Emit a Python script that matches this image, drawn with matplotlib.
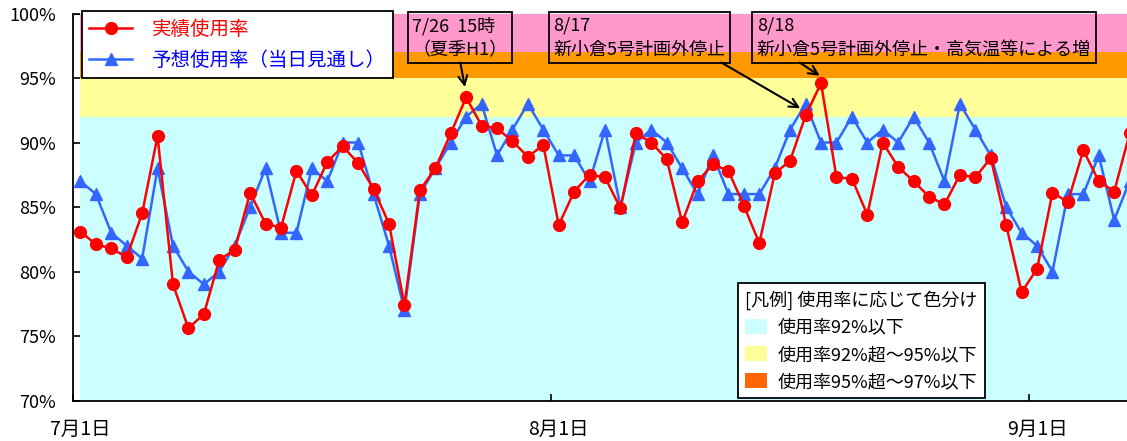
import matplotlib
matplotlib.use('Agg')
import matplotlib.pyplot as plt
from matplotlib.patches import Patch
import numpy as np
import pandas as pd

plt.rcParams['font.family'] = ['Noto Sans CJK JP', 'DejaVu Sans']

# daily categories 7/1 .. 9/7
days = pd.date_range('2014-07-01', periods=69, freq='D')

# 実績使用率 (%)
actual = [83.1, 82.1, 81.8, 81.1, 84.5, 90.5, 79.0, 75.6, 76.7, 80.9,
          81.7, 86.1, 83.7, 83.4, 87.8, 85.9, 88.5, 89.7, 88.4, 86.4,
          83.7, 77.4, 86.3, 88.0, 90.7, 93.5, 91.3, 91.1, 90.1, 88.9,
          89.8, 83.6, 86.2, 87.5, 87.3, 84.9, 90.7, 90.0, 88.7, 83.8,
          87.0, 88.3, 87.8, 85.1, 82.2, 87.6, 88.6, 92.1, 94.6, 87.3,
          87.2, 84.4, 90.0, 88.1, 87.0, 85.8, 85.2, 87.5, 87.3, 88.8,
          83.6, 78.4, 80.2, 86.1, 85.4, 89.4, 87.0, 86.2, 90.7]

# 予想使用率（当日見通し） (%)
forecast = [87, 86, 83, 82, 81, 88, 82, 80, 79, 80,
            82, 85, 88, 83, 83, 88, 87, 90, 90, 86,
            82, 77, 86, 88, 90, 92, 93, 89, 91, 93,
            91, 89, 89, 87, 91, 85, 90, 91, 90, 88,
            86, 89, 86, 86, 86, 88, 91, 93, 90, 90,
            92, 90, 91, 90, 92, 90, 87, 93, 91, 89,
            85, 83, 82, 80, 86, 86, 89, 84, 87]

band_edges = [70, 92, 95, 97, 100]
band_colors = ['#ccffff', '#ffff99', '#ff9900', '#ff99cc']
key_colors = ['#ccffff', '#ffff99', '#ff6600']
key_labels = ['使用率92%以下', '使用率92%超～95%以下', '使用率95%超～97%以下']

tick_idx = [0, 31, 62]
tick_labels = ['7月1日', '8月1日', '9月1日']

fig = plt.figure(figsize=(11.27, 4.41), dpi=100)
ax = fig.add_axes([72.7 / 1127, 1 - 400.5 / 441, 1 - 72.7 / 1127, 387 / 441])

x = np.arange(len(actual))
for lo, hi, c in zip(band_edges[:-1], band_edges[1:], band_colors):
    ax.fill_between(x, lo, hi, color=c, lw=0, zorder=1)

l_fc, = ax.plot(x, forecast, color='#3366ff', lw=1.8, marker='^', ms=8,
                zorder=3, label='予想使用率（当日見通し）')
l_act, = ax.plot(x, actual, color='#ff0000', lw=1.8, marker='o', ms=8.5,
                 zorder=4, label='実績使用率')

ax.set_xlim(-0.5, 67.83)
ax.set_ylim(70, 100)

for s in ['left', 'bottom']:
    ax.spines[s].set_linewidth(1.3)
ax.spines['top'].set_zorder(0.5)
ax.spines['right'].set_visible(False)

ax.set_yticks(np.arange(70, 101, 5))
ax.set_yticklabels([f'{v}%' for v in range(70, 101, 5)])
ax.tick_params(axis='y', direction='in', length=5, width=1.2, pad=12, labelsize=13)

ax.set_xticks([i - 0.5 for i in tick_idx])
ax.set_xticklabels([])
ax.set_xticks(tick_idx, minor=True)
ax.set_xticklabels(tick_labels, minor=True)
ax.tick_params(axis='x', which='major', direction='in', length=5, width=1.2)
ax.tick_params(axis='x', which='minor', length=0, pad=13, labelsize=14)

# event boxes
box = dict(boxstyle='square,pad=0.25', fc='none', ec='black', lw=1.3)
ax.text(24.58, 98.12, '7/26  15時\n（夏季H1）', ha='center', va='center',
        multialignment='left', fontsize=13, linespacing=1.4, bbox=box, zorder=6)
ax.text(36.21, 98.12, '8/17\n新小倉5号計画外停止', ha='center', va='center',
        multialignment='left', fontsize=13, linespacing=1.4, bbox=box, zorder=6)
ax.text(54.67, 98.12, '8/18\n新小倉5号計画外停止・高気温等による増', ha='center',
        va='center', multialignment='left', fontsize=13, linespacing=1.4,
        bbox=box, zorder=6)

arrow = dict(arrowstyle='->', color='black', lw=1.5, mutation_scale=16,
             shrinkA=0, shrinkB=0)
ax.annotate('', xy=(24.92, 94.30), xytext=(24.62, 96.2), arrowprops=arrow, zorder=6)
ax.annotate('', xy=(46.65, 92.65), xytext=(41.54, 96.2), arrowprops=arrow, zorder=6)
ax.annotate('', xy=(47.91, 95.18), xytext=(46.61, 96.2), arrowprops=arrow, zorder=6)

leg1 = ax.legend(handles=[l_act, l_fc], loc='upper left',
                 bbox_to_anchor=(81.7 / 1127, 1 - 11 / 441),
                 bbox_transform=fig.transFigure, fancybox=False,
                 edgecolor='black', framealpha=1, fontsize=14,
                 handlelength=2.2, handletextpad=1.0, borderpad=0.4,
                 labelspacing=0.5, borderaxespad=0)
leg1.get_frame().set_linewidth(1.3)
for t, c in zip(leg1.get_texts(), ['#ff0000', '#0000ff']):
    t.set_color(c)
ax.add_artist(leg1)

handles2 = [Patch(facecolor=c, edgecolor='none') for c in key_colors]
leg2 = ax.legend(handles=handles2, labels=key_labels,
                 title='[凡例] 使用率に応じて色分け', loc='upper left',
                 bbox_to_anchor=(738 / 1127, 1 - 283 / 441),
                 bbox_transform=fig.transFigure, fancybox=False,
                 edgecolor='black', framealpha=1, fontsize=13, title_fontsize=13,
                 alignment='left', handlelength=1.2, handleheight=0.9,
                 handletextpad=0.6, borderpad=0.4, labelspacing=0.5,
                 borderaxespad=0)
leg2.get_frame().set_linewidth(1.3)

fig.savefig('out.png', dpi=100)
